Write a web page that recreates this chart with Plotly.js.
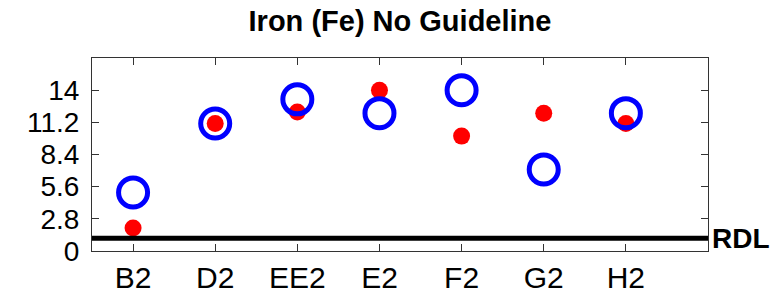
<!DOCTYPE html>
<html>
<head>
<meta charset="utf-8">
<script src="https://cdn.plot.ly/plotly-3.0.1.min.js"></script>
<style>
html,body{margin:0;padding:0;background:#fff;}
#chart{width:782px;height:295px;}
</style>
</head>
<body>
<div id="chart"></div>
<script>
const sites = ["B2", "D2", "EE2", "E2", "F2", "G2", "H2"];
const blueValues = [5.1, 11.1, 13.2, 12.0, 14.0, 7.1, 12.0];
const redValues = [2.0, 11.1, 12.1, 14.0, 10.0, 12.0, 11.1];
const yTickVals = [0, 2.8, 5.6, 8.4, 11.2, 14];
const yTickText = ["0", "2.8", "5.6", "8.4", "11.2", "14"];
const rdlValue = 1.1;
const titleText = "Iron (Fe) No Guideline";
const rdlLabel = "RDL";

const FONT = "Liberation Sans, Arial, Helvetica, sans-serif";

const traces = [
  {
    type: "scatter", mode: "markers", x: sites, y: redValues,
    marker: {symbol: "circle", size: 17, color: "#ff0000", line: {width: 0}},
    hoverinfo: "skip", showlegend: false
  },
  {
    type: "scatter", mode: "markers", x: sites, y: blueValues,
    marker: {symbol: "circle-open", size: 29, color: "#0000ff", line: {width: 5, color: "#0000ff"}},
    hoverinfo: "skip", showlegend: false
  }
];

const layout = {
  width: 782, height: 295,
  margin: {l: 92, r: 74, t: 58, b: 44, pad: 0},
  paper_bgcolor: "#ffffff", plot_bgcolor: "#ffffff",
  font: {family: FONT, color: "#000"},
  title: {
    text: titleText,
    font: {family: FONT, size: 29, weight: "bold", color: "#000"},
    x: 0.5, xref: "paper", xanchor: "center",
    y: 0.93, yref: "container", yanchor: "middle"
  },
  xaxis: {
    type: "category", categoryorder: "array", categoryarray: sites,
    range: [-0.5, 7],
    showgrid: false, zeroline: false,
    showline: true, linecolor: "#333", linewidth: 1, mirror: "ticks",
    ticks: "inside", ticklen: 7, tickcolor: "#333", tickwidth: 1,
    tickfont: {family: FONT, size: 30, color: "#000"},
    ticklabelstandoff: 0,
    fixedrange: true
  },
  yaxis: {
    range: [0, 16.8],
    tickmode: "array", tickvals: yTickVals, ticktext: yTickText,
    showgrid: false, zeroline: false,
    showline: true, linecolor: "#333", linewidth: 1, mirror: "ticks",
    ticks: "inside", ticklen: 7, tickcolor: "#333", tickwidth: 1,
    tickfont: {family: FONT, size: 28, color: "#000"},
    ticklabelstandoff: 6,
    fixedrange: true
  },
  shapes: [
    {type: "line", xref: "paper", yref: "y", x0: 0, x1: 1, y0: rdlValue, y1: rdlValue,
     line: {color: "#000", width: 5}}
  ],
  annotations: [
    {text: rdlLabel, xref: "paper", yref: "y", x: 1, y: rdlValue,
     xanchor: "left", yanchor: "middle", xshift: 2, showarrow: false,
     font: {family: FONT, size: 28, weight: "bold", color: "#000"}}
  ]
};

Plotly.newPlot("chart", traces, layout, {displayModeBar: false, staticPlot: true});
</script>
</body>
</html>
